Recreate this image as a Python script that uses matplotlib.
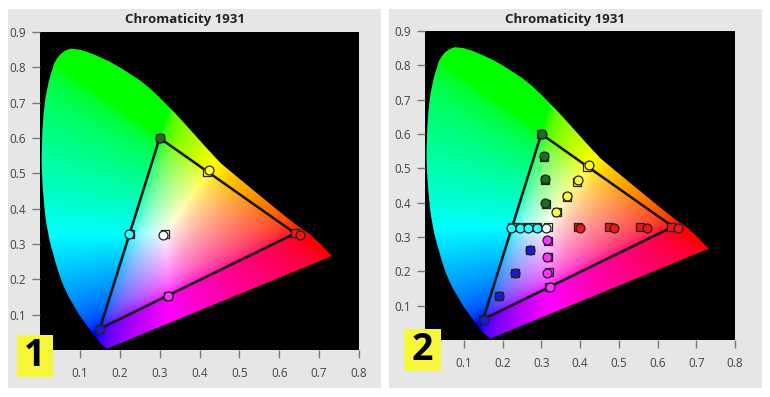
import numpy as np
import matplotlib
matplotlib.use("Agg")
import matplotlib.pyplot as plt
from matplotlib.patches import Polygon, Rectangle

# Spectral locus outline as drawn in the chart (x, y)
locus_x = [0.168, 0.150, 0.132, 0.114, 0.098, 0.085, 0.073, 0.064, 0.055, 0.048,
           0.041, 0.035, 0.029, 0.024, 0.020, 0.016, 0.013, 0.011, 0.009, 0.0075,
           0.006, 0.005, 0.004, 0.004, 0.005, 0.006, 0.009, 0.014, 0.0225, 0.035,
           0.043, 0.052, 0.063, 0.077, 0.100, 0.125, 0.150, 0.175, 0.200, 0.225,
           0.252, 0.275, 0.297, 0.339, 0.377, 0.415, 0.452, 0.490, 0.530, 0.570,
           0.610, 0.645, 0.676, 0.705, 0.732]
locus_y = [0.004, 0.022, 0.047, 0.075, 0.100, 0.125, 0.148, 0.169, 0.192, 0.215,
           0.240, 0.264, 0.288, 0.310, 0.334, 0.358, 0.382, 0.405, 0.430, 0.452,
           0.476, 0.500, 0.527, 0.550, 0.585, 0.621, 0.669, 0.716, 0.763, 0.810,
           0.826, 0.838, 0.847, 0.853, 0.850, 0.841, 0.829, 0.816, 0.800, 0.782,
           0.762, 0.741, 0.718, 0.670, 0.623, 0.575, 0.530, 0.494, 0.457, 0.420,
           0.383, 0.352, 0.328, 0.298, 0.266]

# Gamut triangle (sRGB primaries)
gamut_x = [0.30, 0.64, 0.15, 0.30]
gamut_y = [0.60, 0.33, 0.06, 0.60]

x_ticks = [0.1, 0.2, 0.3, 0.4, 0.5, 0.6, 0.7, 0.8]
y_ticks = [0.1, 0.2, 0.3, 0.4, 0.5, 0.6, 0.7, 0.8, 0.9]

# Panel 1: targets (squares) and measured (circles)
p1_colors = ["#1c6e1c", "#ffff33", "#33ffff", "#ffffff", "#ee1515", "#ff33ff", "#1a1ad8"]
p1_sq_x = [0.300, 0.419, 0.225, 0.3127, 0.640, 0.321, 0.150]
p1_sq_y = [0.600, 0.505, 0.329, 0.329, 0.330, 0.154, 0.060]
p1_ci_x = [0.300, 0.423, 0.222, 0.308, 0.652, 0.322, 0.150]
p1_ci_y = [0.600, 0.509, 0.328, 0.325, 0.326, 0.153, 0.059]

# Panel 2: saturation sweeps
p2_colors = (["#1c6e1c"] * 4 + ["#ffff33"] * 4 + ["#33ffff"] * 4 + ["#ffffff"]
             + ["#ee1515"] * 4 + ["#ff33ff"] * 4 + ["#1a1ad8"] * 4)
p2_sq_x = [0.300, 0.306, 0.309, 0.311,
           0.418, 0.392, 0.366, 0.341,
           0.225, 0.246, 0.268, 0.290,
           0.317,
           0.395, 0.476, 0.556, 0.636,
           0.317, 0.318, 0.319, 0.321,
           0.272, 0.232, 0.192, 0.150]
p2_sq_y = [0.600, 0.534, 0.467, 0.397,
           0.504, 0.461, 0.417, 0.372,
           0.329, 0.329, 0.329, 0.329,
           0.329,
           0.329, 0.329, 0.329, 0.329,
           0.287, 0.242, 0.197, 0.154,
           0.262, 0.194, 0.128, 0.060]
p2_ci_x = [0.301, 0.307, 0.310, 0.310,
           0.424, 0.395, 0.366, 0.338,
           0.222, 0.246, 0.267, 0.290,
           0.311,
           0.399, 0.487, 0.573, 0.653,
           0.316, 0.316, 0.316, 0.322,
           0.272, 0.232, 0.190, 0.151]
p2_ci_y = [0.600, 0.535, 0.468, 0.398,
           0.509, 0.466, 0.418, 0.372,
           0.327, 0.327, 0.327, 0.327,
           0.327,
           0.327, 0.327, 0.327, 0.327,
           0.290, 0.241, 0.196, 0.153,
           0.262, 0.194, 0.127, 0.059]

plt.rcParams['font.family'] = ['Open Sans', 'DejaVu Sans']

W, H = 770, 397
fig = plt.figure(figsize=(W / 100, H / 100), dpi=100)
fig.patch.set_facecolor("white")


def chroma_image(n=400):
    xs = np.linspace(0, 0.8, n)
    ys = np.linspace(0, 0.9, n)
    X, Y = np.meshgrid(xs, ys)
    Yc = np.maximum(Y, 1e-4)
    Xv = X / Yc
    Zv = (1 - X - Y) / Yc
    M = np.array([[3.2406, -1.5372, -0.4986],
                  [-0.9689, 1.8758, 0.0415],
                  [0.0557, -0.2040, 1.0570]])
    XYZ = np.stack([Xv, np.ones_like(Xv), Zv], axis=-1)
    rgb = XYZ @ M.T
    rgb = np.clip(rgb, 0, None)
    rgb = rgb / np.maximum(rgb.max(axis=-1, keepdims=True), 1e-9)
    rgb = np.where(rgb <= 0.0031308, 12.92 * rgb, 1.055 * np.power(rgb, 1 / 2.4) - 0.055)
    return np.clip(rgb, 0, 1)


img = chroma_image()


def panel(rect_px, title_xy, sq_x, sq_y, ci_x, ci_y, colors, bg_px, label, label_px):
    bx0, by0, bx1, by1 = bg_px
    fig.patches.append(Rectangle((bx0 / W, 1 - by1 / H), (bx1 - bx0) / W, (by1 - by0) / H,
                                 transform=fig.transFigure, facecolor="#e6e6e6",
                                 edgecolor="none", zorder=-5))
    l, t, r, b = rect_px
    ax = fig.add_axes([l / W, 1 - b / H, (r - l) / W, (b - t) / H])
    ax.set_zorder(1)
    ax.set_facecolor("black")
    im = ax.imshow(img, extent=[0, 0.8, 0, 0.9], origin="lower", aspect="auto",
                   interpolation="bilinear", zorder=1)
    poly = Polygon(np.column_stack([locus_x, locus_y]), closed=True,
                   facecolor="none", edgecolor="none", transform=ax.transData)
    ax.add_patch(poly)
    im.set_clip_path(poly)
    ax.set_xlim(0, 0.8)
    ax.set_ylim(0, 0.9)
    ax.plot(gamut_x, gamut_y, color="#111111", lw=1.8, zorder=3)
    for xx, yy, c in zip(sq_x, sq_y, colors):
        ax.plot(xx, yy, marker="s", ms=6.2, mfc=c, mec="#222222", mew=0.9, ls="none", zorder=4)
    for xx, yy, c in zip(ci_x, ci_y, colors):
        ax.plot(xx, yy, marker="o", ms=6.4, mfc=c, mec="#222222", mew=0.9, ls="none", zorder=5)
    ax.set_xticks(x_ticks)
    ax.set_yticks(y_ticks)
    ax.set_xticklabels([f"{v:.1f}" for v in x_ticks])
    ax.set_yticklabels([f"{v:.1f}" for v in y_ticks])
    ax.tick_params(axis="x", pad=6)
    ax.tick_params(axis="y", pad=4)
    ax.tick_params(direction="out", length=6, width=1, colors="#777777",
                   labelcolor="#444444", labelsize=8.5)
    for s in ax.spines.values():
        s.set_visible(False)
    fig.text(title_xy[0] / W, 1 - title_xy[1] / H, "Chromaticity 1931", ha="center", va="center",
             fontsize=9.5, fontweight="bold", color="#222222")
    lx0, ly0, lx1, ly1 = label_px
    fig.patches.append(Rectangle((lx0 / W, 1 - ly1 / H), (lx1 - lx0) / W, (ly1 - ly0) / H,
                                 transform=fig.transFigure, facecolor="#f7f73a",
                                 edgecolor="none", zorder=10))
    fig.text((lx0 + lx1) / 2 / W, 1 - (ly0 + ly1) / 2 / H, label, ha="center", va="center",
             fontsize=27, fontweight="bold", color="black", zorder=11)
    return ax


panel((40, 32, 359, 350), (185, 20), p1_sq_x, p1_sq_y, p1_ci_x, p1_ci_y, p1_colors,
      (8, 9, 381, 388), "1", (17, 335, 53, 377))
panel((425, 31, 735, 340), (565, 20), p2_sq_x, p2_sq_y, p2_ci_x, p2_ci_y, p2_colors,
      (389, 9, 762, 388), "2", (404, 329, 441, 371))

fig.savefig("out.png", dpi=100, facecolor="white")
